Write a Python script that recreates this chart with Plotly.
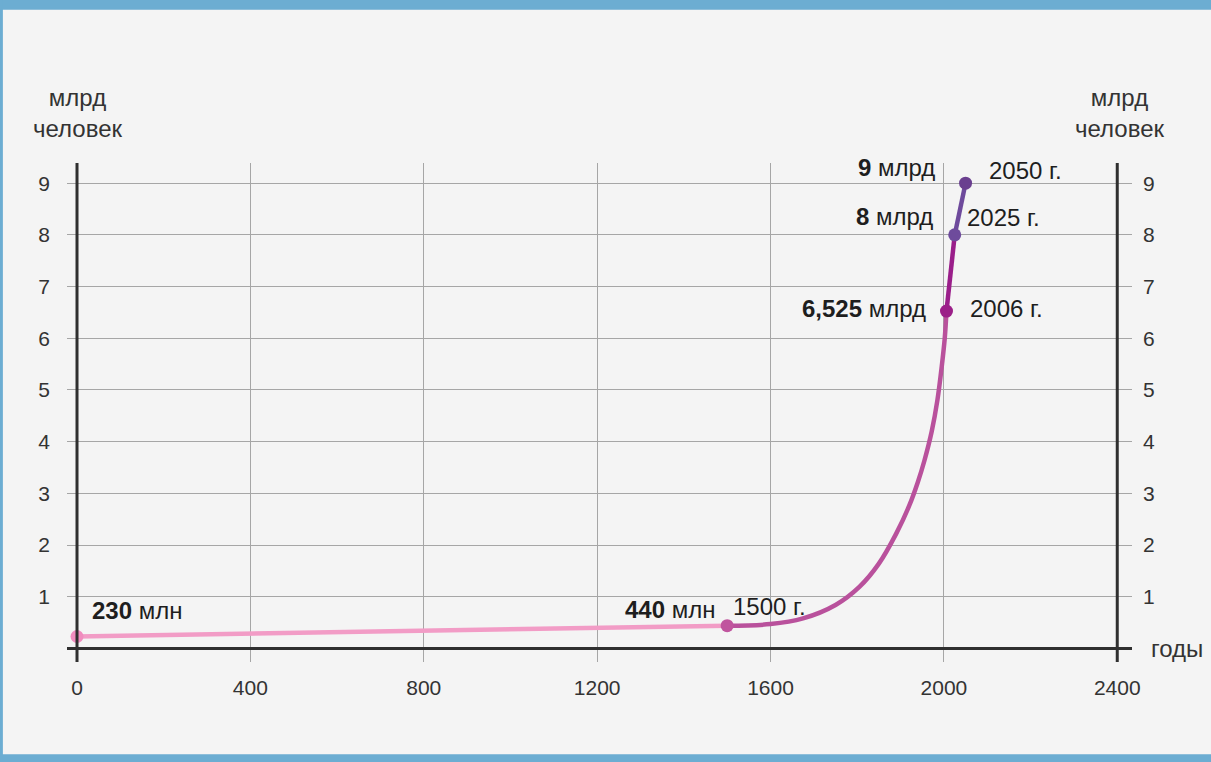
import plotly.graph_objects as go

# ---- data ----
early_years = [0, 1500]
early_pop = [0.23, 0.44]

growth_years = [1500, 1600, 1675, 1750, 1805, 1850, 1890, 1920, 1940, 1955, 1972, 1985, 1995, 2002, 2006]
growth_pop = [0.44, 0.47, 0.58, 0.84, 1.19, 1.64, 2.22, 2.76, 3.22, 3.63, 4.2, 4.8, 5.45, 6.0, 6.525]

recent_years = [2006, 2025]
recent_pop = [6.525, 8.0]

future_years = [2025, 2050]
future_pop = [8.0, 9.0]

x_ticks = [0, 400, 800, 1200, 1600, 2000, 2400]
y_ticks = [1, 2, 3, 4, 5, 6, 7, 8, 9]

point_years = [0, 1500, 2006, 2025, 2050]
point_pop = [0.23, 0.44, 6.525, 8.0, 9.0]
point_colors = ["#f08cbe", "#c0559e", "#9b1f88", "#6e4b9c", "#6a3f8f"]

value_labels = ["<b>230</b> млн", "<b>440</b> млн", "<b>6,525</b> млрд", "<b>8</b> млрд", "<b>9</b> млрд"]
year_labels = ["", "1500 г.", "2006 г.", "2025 г.", "2050 г."]

FONT = "Liberation Sans, Arial, sans-serif"
TXT = "#1e1e1e"

fig = go.Figure()

fig.add_trace(go.Scatter(x=early_years, y=early_pop, mode="lines",
                         line=dict(color="#f29cc6", width=4.5), hoverinfo="skip"))
fig.add_trace(go.Scatter(x=growth_years, y=growth_pop, mode="lines",
                         line=dict(color="#b9519c", width=4.5, shape="spline", smoothing=1.0),
                         hoverinfo="skip"))
fig.add_trace(go.Scatter(x=recent_years, y=recent_pop, mode="lines",
                         line=dict(color="#9a1e8a", width=4.5), hoverinfo="skip"))
fig.add_trace(go.Scatter(x=future_years, y=future_pop, mode="lines",
                         line=dict(color="#6e4a9c", width=4.5), hoverinfo="skip"))
fig.add_trace(go.Scatter(x=point_years, y=point_pop, mode="markers",
                         marker=dict(color=point_colors, size=13), hoverinfo="skip"))
# invisible trace for the right-hand axis
fig.add_trace(go.Scatter(x=[0], y=[0], yaxis="y2", mode="markers",
                         marker=dict(opacity=0), hoverinfo="skip"))

XR = [-23.1, 2434]
YR = [-0.263, 9.39]

fig.update_layout(
    width=1211, height=762,
    margin=dict(l=67, r=79, t=163, b=100),
    paper_bgcolor="#f4f4f4", plot_bgcolor="#f4f4f4",
    showlegend=False,
    font=dict(family=FONT, color="#333333"),
    xaxis=dict(range=XR, tickvals=x_ticks, ticktext=[str(v) for v in x_ticks],
               showgrid=True, gridcolor="#a6a6a6", gridwidth=1.2, zeroline=False,
               showline=False, ticks="", ticklabelstandoff=11,
               tickfont=dict(size=21, color="#333333", family=FONT)),
    yaxis=dict(range=YR, tickvals=y_ticks, ticktext=[str(v) for v in y_ticks],
               showgrid=True, gridcolor="#a6a6a6", gridwidth=1.2, zeroline=False,
               showline=False, ticks="", ticklabelstandoff=16,
               tickfont=dict(size=21, color="#333333", family=FONT)),
    yaxis2=dict(range=YR, overlaying="y", side="right", tickvals=y_ticks,
                ticktext=[str(v) for v in y_ticks], showgrid=False, zeroline=False,
                showline=False, ticks="", ticklabelstandoff=10,
                tickfont=dict(size=21, color="#333333", family=FONT)),
)

# axis lines
shapes = [
    dict(type="line", xref="x", yref="paper", x0=0, x1=0, y0=0, y1=1,
         line=dict(color="#2f2f2f", width=3)),
    dict(type="line", xref="x", yref="paper", x0=2400, x1=2400, y0=0, y1=1,
         line=dict(color="#2f2f2f", width=3)),
    dict(type="line", xref="paper", yref="y", x0=0, x1=1, y0=0, y1=0,
         line=dict(color="#2f2f2f", width=3)),
    # blue frame
    dict(type="rect", xref="paper", yref="paper", x0=-0.08, x1=1.1, y0=1.307, y1=1.35,
         fillcolor="#6cadd2", line=dict(width=0)),
    dict(type="rect", xref="paper", yref="paper", x0=-0.08, x1=1.1, y0=-0.25, y1=-0.185,
         fillcolor="#6cadd2", line=dict(width=0)),
    dict(type="rect", xref="paper", yref="paper", x0=-0.08, x1=-0.0602, y0=-0.25, y1=1.35,
         fillcolor="#6cadd2", line=dict(width=0)),
]
fig.update_layout(shapes=shapes)

ann = []
val_pos = [(30, 0.74, "left"), (1477, 0.76, "right"), (1964, 6.58, "right"),
           (1980, 8.36, "right"), (1985, 9.31, "right")]
yr_pos = [None, (1509, 0.82), (2056, 6.58), (2049, 8.33), (2100, 9.25)]
for i, t in enumerate(value_labels):
    x, y, anc = val_pos[i]
    ann.append(dict(x=x, y=y, xref="x", yref="y", text=t, showarrow=False,
                    xanchor=anc, yanchor="middle",
                    font=dict(size=24, color=TXT, family=FONT)))
for i, t in enumerate(year_labels):
    if not t:
        continue
    x, y = yr_pos[i]
    ann.append(dict(x=x, y=y, xref="x", yref="y", text=t, showarrow=False,
                    xanchor="left", yanchor="middle",
                    font=dict(size=24, color=TXT, family=FONT)))

# axis titles (paper coordinates, outside the plot area)
ann.append(dict(x=0.0103, y=1.100, xref="paper", yref="paper", text="млрд<br>человек",
                showarrow=False, xanchor="center", yanchor="middle",
                font=dict(size=24, color="#333333", family=FONT)))
ann.append(dict(x=0.989, y=1.100, xref="paper", yref="paper", text="млрд<br>человек",
                showarrow=False, xanchor="center", yanchor="middle",
                font=dict(size=24, color="#333333", family=FONT)))
ann.append(dict(x=1.0155, y=0.027, xref="paper", yref="paper", text="годы",
                showarrow=False, xanchor="left", yanchor="middle",
                font=dict(size=24, color="#333333", family=FONT)))
fig.update_layout(annotations=ann)

fig.write_html("out.html", config={"displayModeBar": False},
               post_script="document.body.style.margin='0px';document.body.style.overflow='hidden';")
